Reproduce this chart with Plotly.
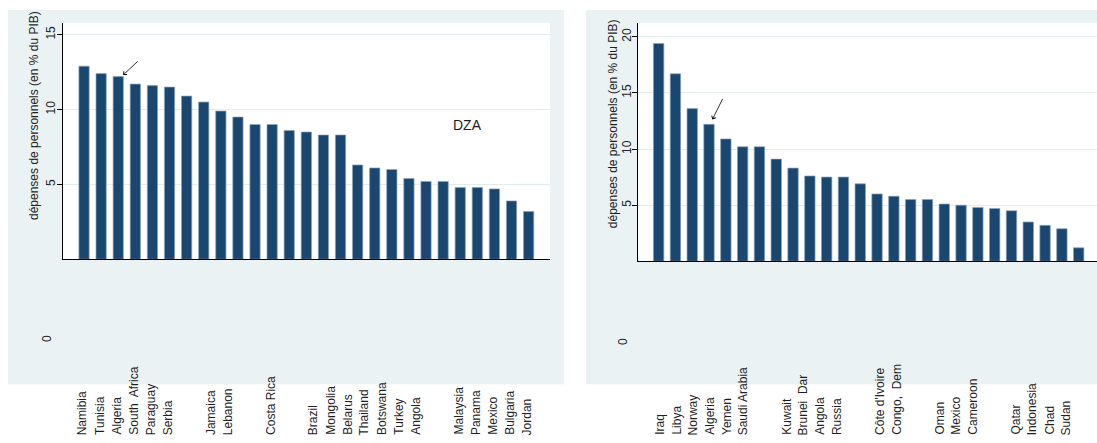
import plotly.graph_objects as go

# ---------------- data ----------------
left_values = [12.9, 12.4, 12.2, 11.7, 11.6, 11.5, 10.9, 10.5, 9.9, 9.5, 9.0, 9.0, 8.6, 8.5,
               8.3, 8.3, 6.3, 6.1, 6.0, 5.4, 5.2, 5.2, 4.8, 4.8, 4.7, 3.9, 3.2]
left_labels = ["Namibia", "Tunisia", "Algeria", "South\u00a0 Africa", "Paraguay", "Serbia", "",
               "Jamaica", "Lebanon", "", "Costa Rica", "", "Brazil", "Mongolia", "Belarus",
               "Thailand", "Botswana", "Turkey", "Angola", "", "Malaysia", "Panama", "Mexico",
               "Bulgaria", "Jordan"]
right_values = [19.4, 16.7, 13.6, 12.2, 10.9, 10.2, 10.2, 9.1, 8.3, 7.6, 7.5, 7.5, 6.9, 6.0,
                5.8, 5.5, 5.5, 5.1, 5.0, 4.8, 4.7, 4.5, 3.5, 3.2, 2.9, 1.2]
right_labels = ["Iraq", "Libya", "Norway", "Algeria", "Yemen", "Saudi Arabia", "",
                "Kuwait", "Brunei\u00a0 Dar", "Angola", "Russia", "", "Côte d'Ivoire",
                "Congo,\u00a0 Dem", "", "Oman", "Mexico", "Cameroon", "", "Qatar", "Indonesia",
                "Chad", "Sudan"]
left_ticks = [5, 10, 15]
right_ticks = [5, 10, 15, 20]
ytitle = "dépenses de personnels (en % du PIB)"
highlight_value = 12.2  # Algeria
note_text = "DZA"

# ---------------- layout helpers ----------------
W, H = 1097, 443
def fx(px):
    return px / W
def fy(py):
    return 1 - py / H

NAVY = "#1a476f"
LIGHT = "#eaf2f3"
GRID = "#e1ecef"
TXT = "#1e1e1e"
FONT = "Liberation Sans, Arial"

fig = go.Figure()
fig.add_trace(go.Bar(x=list(range(len(left_values))), y=left_values, width=0.6,
                     marker=dict(color=NAVY, line=dict(color="#8ea3b6", width=0.7)),
                     xaxis="x", yaxis="y", showlegend=False))
fig.add_trace(go.Bar(x=list(range(len(right_values))), y=right_values, width=0.62,
                     marker=dict(color=NAVY, line=dict(color="#8ea3b6", width=0.7)),
                     xaxis="x2", yaxis="y2", showlegend=False))

common_x = dict(showticklabels=False, showgrid=False, zeroline=False, ticks="",
                showline=True, linecolor="#000000", linewidth=1, fixedrange=True)
common_y = dict(showgrid=True, gridcolor=GRID, gridwidth=1.3, zeroline=False,
                ticks="outside", ticklen=5, tickcolor="#000000", tickwidth=1,
                showline=True, linecolor="#000000", linewidth=1, tickangle=-90,
                ticklabelstandoff=-3,
                tickfont=dict(family=FONT, size=12, color=TXT),
                fixedrange=True)

fig.update_layout(
    width=W, height=H, autosize=False,
    margin=dict(l=0, r=0, t=0, b=0),
    paper_bgcolor="white", plot_bgcolor="rgba(0,0,0,0)",
    bargap=0.4,
    xaxis=dict(domain=[fx(62.5), fx(550)], range=[-1.26, 27.25], anchor="y", **common_x),
    yaxis=dict(domain=[fy(259.3), fy(22.7)], range=[0, 15.8], anchor="x",
               tickvals=left_ticks, **common_y),
    xaxis2=dict(domain=[fx(638.3), 1.0], range=[-1.21, 26.09], anchor="y2", **common_x),
    yaxis2=dict(domain=[fy(261.3), fy(22.7)], range=[0, 21.25], anchor="x2",
                tickvals=right_ticks, **common_y),
    font=dict(family=FONT, color=TXT),
)

# background regions (light graph region + white plot region)
shapes = [
    dict(type="rect", xref="paper", yref="paper", x0=fx(8), x1=fx(564), y0=fy(384.3), y1=fy(10),
         fillcolor=LIGHT, line=dict(width=0), layer="below"),
    dict(type="rect", xref="paper", yref="paper", x0=fx(586), x1=1.0, y0=fy(384.3), y1=fy(10),
         fillcolor=LIGHT, line=dict(width=0), layer="below"),
    dict(type="rect", xref="paper", yref="paper", x0=fx(62.5), x1=fx(550), y0=fy(259.3), y1=fy(22.7),
         fillcolor="white", line=dict(width=0), layer="below"),
    dict(type="rect", xref="paper", yref="paper", x0=fx(638.3), x1=1.0, y0=fy(261.3), y1=fy(22.7),
         fillcolor="white", line=dict(width=0), layer="below"),
]
fig.update_layout(shapes=shapes)

annotations = []

def add_labels(labels, xref, start, blank_w):
    pos = start
    for lab in labels:
        if lab == "":
            pos += blank_w
            continue
        annotations.append(dict(text=lab, xref=xref, yref="paper", x=pos, y=fy(437),
                                xanchor="center", yanchor="bottom", textangle=-90,
                                showarrow=False,
                                font=dict(family=FONT, size=12, color=TXT)))
        pos += 1

add_labels(left_labels, "x", -0.1, 1.5)
add_labels(right_labels, "x2", 0.04, 1.55)

def text_ann(text, x, y, xref="paper", yref="paper", angle=0, size=12):
    return dict(text=text, xref=xref, yref=yref, x=x, y=y, textangle=angle,
                showarrow=False, xanchor="center", yanchor="middle",
                font=dict(family=FONT, size=size, color=TXT))

# y-axis titles
annotations.append(text_ann(ytitle, fx(34), fy(116), angle=-90))
annotations.append(text_ann(ytitle, fx(612.5), fy(123.7), angle=-90))
# stray zero labels
annotations.append(text_ann("0", fx(47), fy(339), angle=-90))
annotations.append(text_ann("0", fx(623), fy(341), angle=-90))
# DZA note
annotations.append(text_ann(note_text, 22.45, 8.95, xref="x", yref="y", size=14))
# arrows pointing at Algeria
annotations.append(dict(text="", xref="x", yref="y", x=2.29, y=highlight_value + 0.11,
                        ax=16, ay=-15, showarrow=True, arrowhead=4, arrowsize=1.1,
                        arrowwidth=0.8, arrowcolor="#000000"))
annotations.append(dict(text="", xref="x2", yref="y2", x=3.2, y=highlight_value + 0.44,
                        ax=11, ay=-22, showarrow=True, arrowhead=4, arrowsize=1.1,
                        arrowwidth=0.8, arrowcolor="#000000"))
fig.update_layout(annotations=annotations)

fig.write_html("out.html")
